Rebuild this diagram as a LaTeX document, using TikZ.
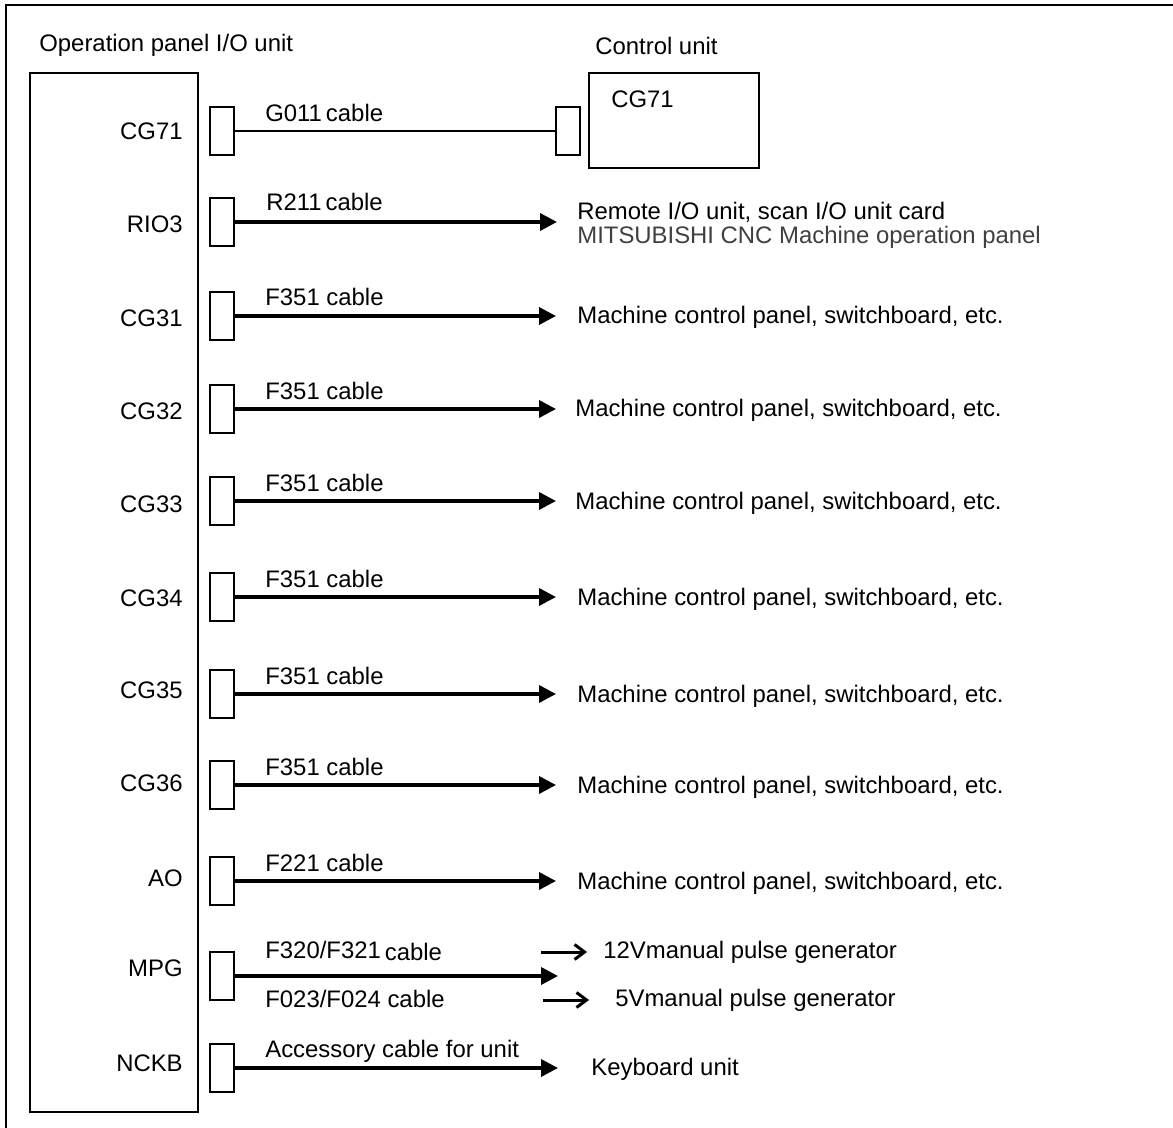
\documentclass[tikz,border=0pt]{standalone}
\usepackage{fontspec}
\setmainfont{Liberation Sans}
\usetikzlibrary{arrows.meta, positioning}

\begin{document}
\begin{tikzpicture}[
  x=0.02cm, y=-0.02cm,
  every node/.style={font=\fontsize{13.6pt}{16pt}\selectfont, inner sep=0pt},
  unitbox/.style={draw, line width=1.5pt},
  conn/.style={draw, line width=1.4pt, minimum width=0.48cm, minimum height=0.96cm},
  lbl/.style={anchor=base west},
  port/.style={anchor=east},
  cable/.style={line width=2pt, -{Triangle[length=0.34cm, width=0.34cm]}},
  plain/.style={line width=1.5pt},
  short/.style={line width=1.7pt, -{Straight Barb[length=0.2cm, width=0.3cm]}},
]
  \useasboundingbox (0,0) rectangle (1173,1128);
  \clip (0,0) rectangle (1173,1128);
  % frame, right and bottom edges run off the sheet
  \draw[line width=1.3pt] (6,5) rectangle (1200,1160);

  % the two units
  \node[unitbox, minimum width=3.36cm, minimum height=20.78cm] (opu) at (114,592.5) {};
  \node[lbl] (opulbl) at (39,52) {Operation panel I/O unit};
  \node[unitbox, minimum width=3.4cm, minimum height=1.9cm] (cu) at (674,120.5) {};
  \node[lbl] (culbl) at (595,55) {Control unit};
  \node[lbl] (cucg) at (611,108) {CG71};

  % CG71 to control unit
  \node[conn] (kCG71) at (222,131) {};
  \node[conn] (kcu) at (568,131) {};
  \node[port] (lCG71) at (183,131) {CG71};
  \node[lbl] (cCG71) at (265,122) {G011\,cable};
  \draw[plain] (kCG71.east) -- (kcu.west);

  % RIO3
  \node[conn] (kRIO3) at (222,222) {};
  \node[port] (lRIO3) at (183,224) {RIO3};
  \node[lbl] (cRIO3) at (266,211) {R211\,cable};
  \coordinate (eRIO3) at (557,222);
  \draw[cable] (kRIO3.east) -- (eRIO3);
  \node[lbl] (tRIO3) at (577,220) {Remote I/O unit, scan I/O unit card};
  \node[lbl, text=black!75] (tRIO3b) at (577,244) {MITSUBISHI CNC Machine operation panel};

  % machine control panel outputs
  \foreach \p/\ly/\y/\cab/\tx in {CG31/318/316/F351 cable/577, CG32/411/409/F351 cable/575,
      CG33/504/501/F351 cable/575, CG34/598/597/F351 cable/577, CG35/690/694/F351 cable/577,
      CG36/783/785/F351 cable/577, AO/878/881/F221 cable/577} {
    \node[conn] (k\p) at (222,\y) {};
    \node[port] (l\p) at (183,\ly) {\p};
    \node[lbl] (c\p) at (265,\y-10) {\cab};
    \coordinate (e\p) at (556,\y);
    \draw[cable] (k\p.east) -- (e\p);
    \node[lbl] (t\p) at (\tx,\y+8) {Machine control panel, switchboard, etc.};
  }

  % MPG
  \node[conn] (kMPG) at (222,976) {};
  \node[port] (lMPG) at (183,968) {MPG};
  \node[lbl] (cMPGa) at (265,958) {F320/F321\,\raisebox{-1.7pt}{cable}};
  \node[lbl] (cMPGb) at (265,1007) {F023/F024 cable};
  \coordinate (eMPG) at (558,976);
  \draw[cable] (kMPG.east) -- (eMPG);
  \node[lbl] (t12) at (603,958) {12Vmanual pulse generator};
  \node[lbl] (t5) at (615,1006) {5Vmanual pulse generator};
  \coordinate (s12) at (541,952);
  \coordinate (s5) at (543,1000);
  \draw[short, shorten >=0.32cm] (s12) -- (s12 -| t12.west);
  \draw[short, shorten >=0.52cm] (s5) -- (s5 -| t5.west);

  % NCKB
  \node[conn] (kNCKB) at (222,1068) {};
  \node[port] (lNCKB) at (183,1063) {NCKB};
  \node[lbl] (cNCKB) at (265,1057) {Accessory cable for unit};
  \coordinate (eNCKB) at (558,1068);
  \draw[cable] (kNCKB.east) -- (eNCKB);
  \node[lbl] (tNCKB) at (591,1075) {Keyboard unit};
\end{tikzpicture}
\end{document}
